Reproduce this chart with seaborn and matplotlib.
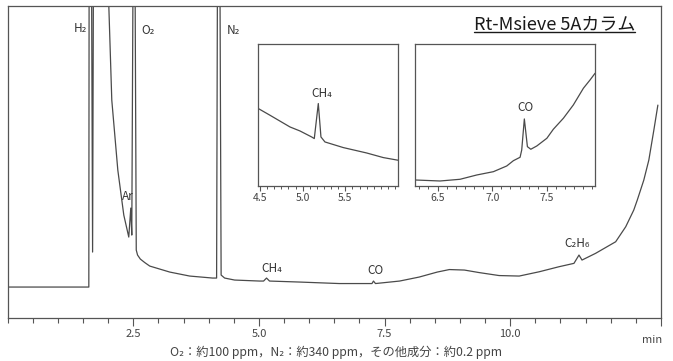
import numpy as np
import pandas as pd
import seaborn as sns
import matplotlib.pyplot as plt
from matplotlib.ticker import MultipleLocator, FixedLocator

# main chromatogram (retention time in min, detector signal in arbitrary units)
main_t = [0.0, 1.615, 1.622, 1.665, 1.69, 1.71, 1.99, 2.013, 2.072, 2.192, 2.311,
          2.41, 2.45, 2.47, 2.50, 2.53, 2.559, 2.585, 2.64, 2.728, 2.827, 3.225, 3.622,
          4.079, 4.158, 4.178, 4.22, 4.248, 4.318, 4.517, 5.013, 5.093, 5.152,
          5.211, 5.81, 6.6, 7.2, 7.25, 7.28, 7.32, 7.8, 8.19, 8.55, 8.79, 9.09,
          9.38, 9.78, 10.18, 10.58, 10.97, 11.27, 11.37, 11.43, 11.70, 12.10,
          12.30, 12.46, 12.53, 12.66, 12.76, 12.86, 12.94]
main_v = [31, 31, 400, 400, 66, 400, 340, 312, 218, 148, 103,
          81, 110, 83, 400, 400, 68, 63, 59, 55.5, 52, 46, 42,
          40, 40, 400, 400, 43, 40, 38, 37, 37, 40,
          37, 36, 34.5, 34.5, 34.5, 37, 34.5, 37, 41, 46, 48.5, 48,
          45.5, 42.5, 42, 46.3, 51.3, 54.7, 63, 58, 64.7, 76.3,
          91.3, 108, 118, 138, 158, 188, 213]

# CH4 inset
ch4_t = [4.48, 4.617, 4.851, 4.968, 5.105, 5.136, 5.183, 5.214, 5.261, 5.475,
         5.749, 5.944, 6.12]
ch4_v = [77.4, 70.7, 59, 55, 49, 47.4, 82.4, 49, 44, 38.4, 33, 28.4, 25.7]

# CO inset
co_t = [6.294, 6.523, 6.706, 6.859, 7.011, 7.133, 7.194, 7.255, 7.270, 7.294,
        7.322, 7.353, 7.408, 7.5, 7.559, 7.651, 7.742, 7.834, 7.895, 7.941]
co_v = [6, 5, 6.7, 11, 14.3, 20, 25.3, 28.7, 36, 67, 39.3, 36.7, 40, 47.7,
        56.7, 67.7, 81, 97.7, 106, 112.7]

main_ticks = [2.5, 5.0, 7.5, 10.0]
main_tick_labels = ["2.5", "5.0", "7.5", "10.0"]

sns.set_style("white")
plt.rcParams['font.family'] = ['Noto Sans CJK JP', 'DejaVu Sans']

line_col = "#4a4a4a"
frame_col = "#555555"

fig = plt.figure(figsize=(6.73, 3.61), dpi=100)
ax = fig.add_axes([0.0114, 0.119, 0.9706, 0.864])

df = pd.DataFrame({"t": main_t, "v": main_v})
sns.lineplot(data=df, x="t", y="v", ax=ax, color=line_col, lw=0.9,
             sort=False, estimator=None)
ax.set_xlim(0, 13)
ax.set_ylim(0, 312)
ax.set_xlabel("")
ax.set_ylabel("")
ax.set_yticks([])
ax.xaxis.set_major_locator(FixedLocator(main_ticks + [13.0]))
ax.set_xticklabels(main_tick_labels + [""])
ax.xaxis.set_minor_locator(MultipleLocator(0.5))
ax.tick_params(axis="x", which="major", direction="out", length=6, width=0.8,
               color=frame_col, labelsize=8, labelcolor="#444444", pad=2,
               bottom=True)
ax.tick_params(axis="x", which="minor", direction="out", length=3.5, width=0.8,
               color=frame_col, bottom=True)
for s in ax.spines.values():
    s.set_color(frame_col)
    s.set_linewidth(0.9)
ax.text(12.82, -0.055, "min", transform=ax.get_xaxis_transform(),
        ha="center", va="top", fontsize=8, color="#444444")

lab = dict(ha="center", va="center", fontsize=8.5, color="#333333")
ax.text(1.44, 290, "H₂", **lab)
ax.text(2.79, 288, "O₂", **lab)
ax.text(4.50, 288, "N₂", **lab)
ax.text(2.39, 122, "Ar", **lab)
ax.text(5.25, 50, "CH₄", **lab)
ax.text(7.32, 48, "CO", **lab)
ax.text(11.33, 75, "C₂H₆", **lab)


def inset(rect, t, v, xlim, majors, label, lx, ly):
    a = fig.add_axes(rect)
    d = pd.DataFrame({"t": t, "v": v})
    sns.lineplot(data=d, x="t", y="v", ax=a, color=line_col, lw=0.9,
                 sort=False, estimator=None)
    a.set_xlim(*xlim)
    a.set_ylim(0, 142.4)
    a.set_xlabel("")
    a.set_ylabel("")
    a.set_yticks([])
    a.set_xticks(majors)
    a.set_xticklabels([f"{m:.1f}" for m in majors])
    a.xaxis.set_minor_locator(MultipleLocator(0.5 / 6))
    a.tick_params(axis="x", which="major", direction="out", length=3.5,
                  width=0.8, color=frame_col, labelsize=7.5,
                  labelcolor="#444444", pad=1.5, bottom=True)
    a.tick_params(axis="x", which="minor", direction="out", length=2.5,
                  width=0.7, color=frame_col, bottom=True)
    for s in a.spines.values():
        s.set_color(frame_col)
        s.set_linewidth(0.9)
    a.text(lx, ly, label, ha="center", va="center", fontsize=8.5,
           color="#333333")
    return a


inset([0.3838, 0.4848, 0.208, 0.3947], ch4_t, ch4_v, (4.48, 6.12),
      [4.5, 5.0, 5.5], "CH₄", 5.226, 92.7)
inset([0.6166, 0.4848, 0.2675, 0.3947], co_t, co_v, (6.294, 7.94),
      [6.5, 7.0, 7.5], "CO", 7.30, 78)

title = fig.text(0.9435, 0.9335, "Rt-Msieve 5Aカラム", ha="right", va="center",
                 fontsize=13, color="#1a1a1a")
fig.canvas.draw()
bb = title.get_window_extent(renderer=fig.canvas.get_renderer())
bb = bb.transformed(fig.transFigure.inverted())
fig.add_artist(plt.Line2D([bb.x0, bb.x1], [bb.y0 + 0.003, bb.y0 + 0.003],
                          transform=fig.transFigure, color="#1a1a1a", lw=1.0))

fig.text(0.5, 0.025, "O₂：約100 ppm，N₂：約340 ppm，その他成分：約0.2 ppm",
         ha="center", va="center", fontsize=8.8, color="#444444")

fig.savefig("out.png", dpi=100)
